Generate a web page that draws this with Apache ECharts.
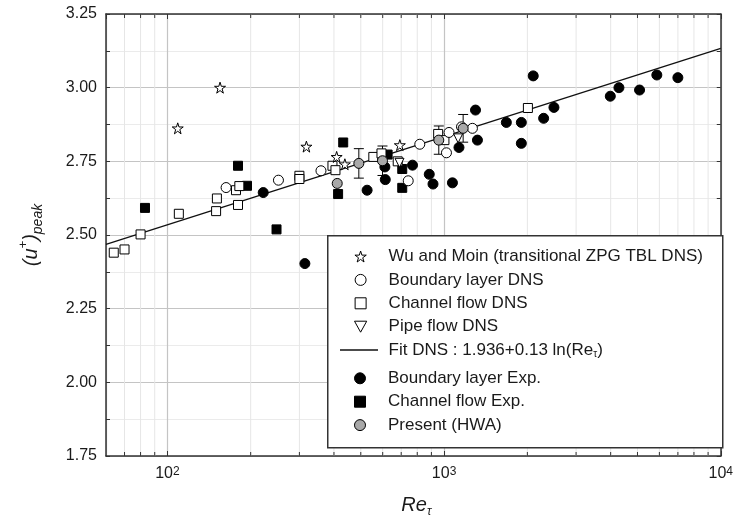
<!DOCTYPE html>
<html><head><meta charset="utf-8">
<script src="https://cdn.jsdelivr.net/npm/echarts@6/dist/echarts.min.js"></script>
<style>html,body{margin:0;padding:0;background:#fff}#c{width:736px;height:528px}</style>
</head><body><div id="c"></div>
<script>
// ---- axes ----
const xMin = 60, xMax = 10000;
const yMin = 1.75, yMax = 3.25, yStep = 0.25;
const xMajorTicks = [100, 1000, 10000];
const xTickExponents = ['2', '3', '4'];
const xMinorTicks = [70, 80, 90, 200, 300, 400, 500, 600, 700, 800, 900,
  2000, 3000, 4000, 5000, 6000, 7000, 8000, 9000];

// ---- legend names ----
const nameWu = 'Wu and Moin (transitional ZPG TBL DNS)';
const nameBLDNS = 'Boundary layer DNS';
const nameChDNS = 'Channel flow DNS';
const namePipe = 'Pipe flow DNS';
const nameFit = 'Fit DNS : 1.936+0.13 ln(Re)';
const nameBLExp = 'Boundary layer Exp.';
const nameChExp = 'Channel flow Exp.';
const nameHWA = 'Present (HWA)';

// ---- data: [Re_tau, (u+)peak] ----
const wuMoin = [[109, 2.862], [155, 3.0], [318, 2.80], [409, 2.765], [438, 2.74], [692, 2.805]];
const blDNS = [[163, 2.661], [252, 2.686], [359, 2.718], [742, 2.684], [817, 2.808],
  [1020, 2.779], [1042, 2.848], [1156, 2.867], [1266, 2.862]];
const chDNS = [[64, 2.44], [70, 2.451], [80, 2.502], [110, 2.572], [150, 2.581], [151, 2.624],
  [177, 2.652], [180, 2.602], [182, 2.666], [300, 2.701], [300, 2.69], [395, 2.735], [405, 2.72],
  [555, 2.765], [594, 2.777], [680, 2.75], [952, 2.843], [1003, 2.822], [2009, 2.931]];
const pipeDNS = [[690, 2.745], [1124, 2.828]];
const fitLine = [[60, 2.468], [10000, 3.133]];
const blExp = [[222, 2.644], [314, 2.403], [527, 2.652], [613, 2.688], [611, 2.731], [769, 2.737],
  [884, 2.706], [912, 2.673], [1072, 2.677], [1132, 2.797], [1299, 2.924], [1320, 2.822],
  [1679, 2.882], [1902, 2.882], [1902, 2.811], [2100, 3.04], [2290, 2.896], [2495, 2.933],
  [3988, 2.971], [4285, 3.0], [5087, 2.992], [5874, 3.043], [6998, 3.034]];
const chExp = [[83, 2.592], [180, 2.735], [194, 2.667], [248, 2.519], [414, 2.639], [432, 2.814],
  [625, 2.773], [706, 2.724], [706, 2.66]];
const hwa = [[411, 2.675], [492, 2.743], [599, 2.752], [957, 2.822], [1172, 2.862]];
const hwaErr = [0, 0.05, 0.05, 0.048, 0.047];

// ---- build ----
const FONT = 'Liberation Sans, Arial, sans-serif';
const TXT = '#1a1a1a';
const STAR = 'path://M50,2 L61,37 L98,37 L68,59 L79,95 L50,73 L21,95 L32,59 L2,37 L39,37 Z';
const SQUARE = 'path://M0,0 L10,0 L10,10 L0,10 Z';
const TRI_DOWN = 'path://M0,0 L10,0 L5,9 Z';
const errData = hwa.map((p, i) => [p[0], p[1] - hwaErr[i], p[1] + hwaErr[i]]).filter((d, i) => hwaErr[i] > 0);
const minorData = xMinorTicks.map(v => [v, yMin]);

const openStyle = { color: '#fff', borderColor: '#000', borderWidth: 1, opacity: 1 };
const fillStyle = { color: '#000', borderColor: '#000', borderWidth: 1, opacity: 1 };
const grayStyle = { color: '#a8a8a8', borderColor: '#000', borderWidth: 1, opacity: 1 };
const hiddenStyle = { color: 'rgba(0,0,0,0)', borderColor: 'rgba(0,0,0,0)', borderWidth: 0 };

const chart = echarts.init(document.getElementById('c'), null, { renderer: 'canvas' });
const axisLineStyle = { color: '#333', width: 1.5 };
const legendText = {
  fontFamily: FONT, fontSize: 17, color: TXT, lineHeight: 19, padding: [0, 0, 0, 3],
  rich: { s: { fontFamily: FONT, fontSize: 10, color: TXT, lineHeight: 10, verticalAlign: 'bottom' } }
};
chart.setOption({
  animation: false,
  backgroundColor: '#fff',
  grid: { left: 106, right: 15, top: 14, bottom: 72 },
  xAxis: [{
    type: 'log', logBase: 10, min: xMin, max: xMax, position: 'bottom',
    name: 'Re{s|τ}', nameLocation: 'middle', nameGap: 36,
    nameTextStyle: {
      fontFamily: FONT, fontSize: 20, fontStyle: 'italic', color: TXT, lineHeight: 26, padding: [0, 0, 0, 6],
      rich: { s: { fontFamily: FONT, fontSize: 12, fontStyle: 'italic', color: TXT, lineHeight: 14, verticalAlign: 'bottom' } }
    },
    axisLine: { show: true, lineStyle: axisLineStyle },
    axisTick: { show: true, inside: true, length: 5, lineStyle: { color: '#333', width: 1 } },
    axisLabel: {
      margin: 10, fontFamily: FONT, fontSize: 16, color: TXT, showMinLabel: false,
      formatter: v => {
        const i = xMajorTicks.findIndex(t => Math.abs(Math.log10(t) - Math.log10(v)) < 1e-6);
        return i >= 0 ? '10{p|' + xTickExponents[i] + '}' : '';
      },
      rich: { p: { fontFamily: FONT, fontSize: 12, color: TXT, lineHeight: 12, verticalAlign: 'top', padding: [0, 0, 6, 0] } }
    },
    splitLine: { show: true, lineStyle: { color: '#c4c4c4', width: 1.2 } },
    minorTick: { show: false }
  }, {
    type: 'log', logBase: 10, min: xMin, max: xMax, position: 'top',
    axisLine: { show: true, lineStyle: axisLineStyle },
    axisTick: { show: true, inside: true, length: 5, lineStyle: { color: '#333', width: 1 } },
    axisLabel: { show: false }, splitLine: { show: false }
  }],
  yAxis: [{
    type: 'value', min: yMin, max: yMax, interval: yStep, position: 'left',
    name: '(u{p|+}){s|peak}', nameLocation: 'middle', nameGap: 61, nameRotate: 90,
    nameTextStyle: {
      fontFamily: FONT, fontSize: 20, fontStyle: 'italic', color: TXT, lineHeight: 28,
      rich: {
        p: { fontFamily: FONT, fontSize: 13, fontStyle: 'italic', color: TXT, lineHeight: 14, verticalAlign: 'top' },
        s: { fontFamily: FONT, fontSize: 14, fontStyle: 'italic', color: TXT, lineHeight: 14, verticalAlign: 'bottom' }
      }
    },
    axisLine: { show: true, lineStyle: axisLineStyle },
    axisTick: { show: true, inside: true, length: 4, lineStyle: { color: '#333', width: 1 } },
    minorTick: { show: true, splitNumber: 2, length: 4, lineStyle: { color: '#333', width: 1 } },
    axisLabel: { margin: 9, fontFamily: FONT, fontSize: 16, color: TXT, formatter: v => v.toFixed(2) },
    splitLine: { show: true, lineStyle: { color: '#c4c4c4', width: 1.2 } },
    minorSplitLine: { show: true, lineStyle: { color: '#ebebeb', width: 1 } }
  }, {
    type: 'value', min: yMin, max: yMax, interval: yStep, position: 'right',
    axisLine: { show: true, lineStyle: axisLineStyle },
    axisTick: { show: true, inside: true, length: 4, lineStyle: { color: '#333', width: 1 } },
    minorTick: { show: true, splitNumber: 2, length: 4, lineStyle: { color: '#333', width: 1 } },
    axisLabel: { show: false }, splitLine: { show: false }
  }],
  legend: [{
    orient: 'vertical', left: 354, top: 247, padding: 0, itemGap: 4.4,
    itemWidth: 40, itemHeight: 11, textStyle: legendText, symbolKeepAspect: true,
    data: [
      { name: nameWu, icon: STAR, itemStyle: openStyle },
      { name: nameBLDNS, icon: 'circle', itemStyle: openStyle },
      { name: nameChDNS, icon: SQUARE, itemStyle: { ...openStyle } },
      { name: namePipe, icon: TRI_DOWN, itemStyle: { ...openStyle } },
      { name: nameFit, icon: 'circle', itemStyle: hiddenStyle }
    ],
    formatter: n => n === nameFit ? 'Fit DNS : 1.936+0.13 ln(Re{s|τ})' : n,
    selectedMode: false
  }, {
    orient: 'vertical', left: 354, top: 368.8, padding: 0, itemGap: 4.4,
    itemWidth: 40, itemHeight: 11, textStyle: legendText, symbolKeepAspect: true,
    data: [
      { name: nameBLExp, icon: 'circle', itemStyle: fillStyle },
      { name: nameChExp, icon: SQUARE, itemStyle: fillStyle },
      { name: nameHWA, icon: 'circle', itemStyle: grayStyle }
    ],
    selectedMode: false
  }],
  graphic: { elements: [{
    type: 'rect', left: 327, top: 235, z: 3,
    shape: { width: 395, height: 212 },
    style: { fill: '#fff', stroke: '#333', lineWidth: 1.5 }
  }, {
    type: 'line', z: 5, silent: true,
    shape: { x1: 340, y1: 350, x2: 378, y2: 350 },
    style: { stroke: '#111', lineWidth: 1.3 }
  }] },
  series: [
    {
      type: 'custom', silent: true, z: 1, data: minorData, encode: { x: 0, y: 1 },
      renderItem: (params, api) => {
        const v = api.value(0);
        const b = api.coord([v, yMin]), t = api.coord([v, yMax]);
        const st = { stroke: '#333', lineWidth: 1 };
        return { type: 'group', children: [
          { type: 'line', shape: { x1: b[0], y1: b[1], x2: t[0], y2: t[1] }, style: { stroke: '#e6e6e6', lineWidth: 1 } },
          { type: 'line', shape: { x1: b[0], y1: b[1], x2: b[0], y2: b[1] - 4 }, style: st },
          { type: 'line', shape: { x1: t[0], y1: t[1], x2: t[0], y2: t[1] + 4 }, style: st }
        ] };
      }
    },
    { name: nameFit, type: 'line', data: fitLine, symbol: 'none', showSymbol: false, z: 2,
      lineStyle: { color: '#111', width: 1.3 }, itemStyle: { color: '#111' } },
    { name: nameBLExp, type: 'scatter', data: blExp, symbol: 'circle', symbolSize: 10, z: 3, itemStyle: fillStyle },
    { name: nameChExp, type: 'scatter', data: chExp, symbol: 'rect', symbolSize: 9, z: 3, itemStyle: fillStyle },
    { name: nameChDNS, type: 'scatter', data: chDNS, symbol: 'rect', symbolSize: 9, z: 3, itemStyle: openStyle },
    { name: nameBLDNS, type: 'scatter', data: blDNS, symbol: 'circle', symbolSize: 10, z: 3, itemStyle: openStyle },
    { name: namePipe, type: 'scatter', data: pipeDNS, symbol: 'triangle', symbolRotate: 180, symbolSize: 9, z: 3, itemStyle: openStyle },
    { name: nameWu, type: 'scatter', data: wuMoin, symbol: STAR, symbolSize: 11, z: 3, itemStyle: openStyle },
    {
      type: 'custom', silent: true, z: 3, data: errData, encode: { x: 0, y: [1, 2] },
      renderItem: (params, api) => {
        const x = api.value(0);
        const a = api.coord([x, api.value(1)]), b = api.coord([x, api.value(2)]);
        const w = 5, st = { stroke: '#000', lineWidth: 1 };
        return { type: 'group', children: [
          { type: 'line', shape: { x1: a[0], y1: a[1], x2: b[0], y2: b[1] }, style: st },
          { type: 'line', shape: { x1: a[0] - w, y1: a[1], x2: a[0] + w, y2: a[1] }, style: st },
          { type: 'line', shape: { x1: b[0] - w, y1: b[1], x2: b[0] + w, y2: b[1] }, style: st }
        ] };
      }
    },
    { name: nameHWA, type: 'scatter', data: hwa, symbol: 'circle', symbolSize: 10, z: 3, itemStyle: grayStyle }
  ]
});
</script></body></html>
